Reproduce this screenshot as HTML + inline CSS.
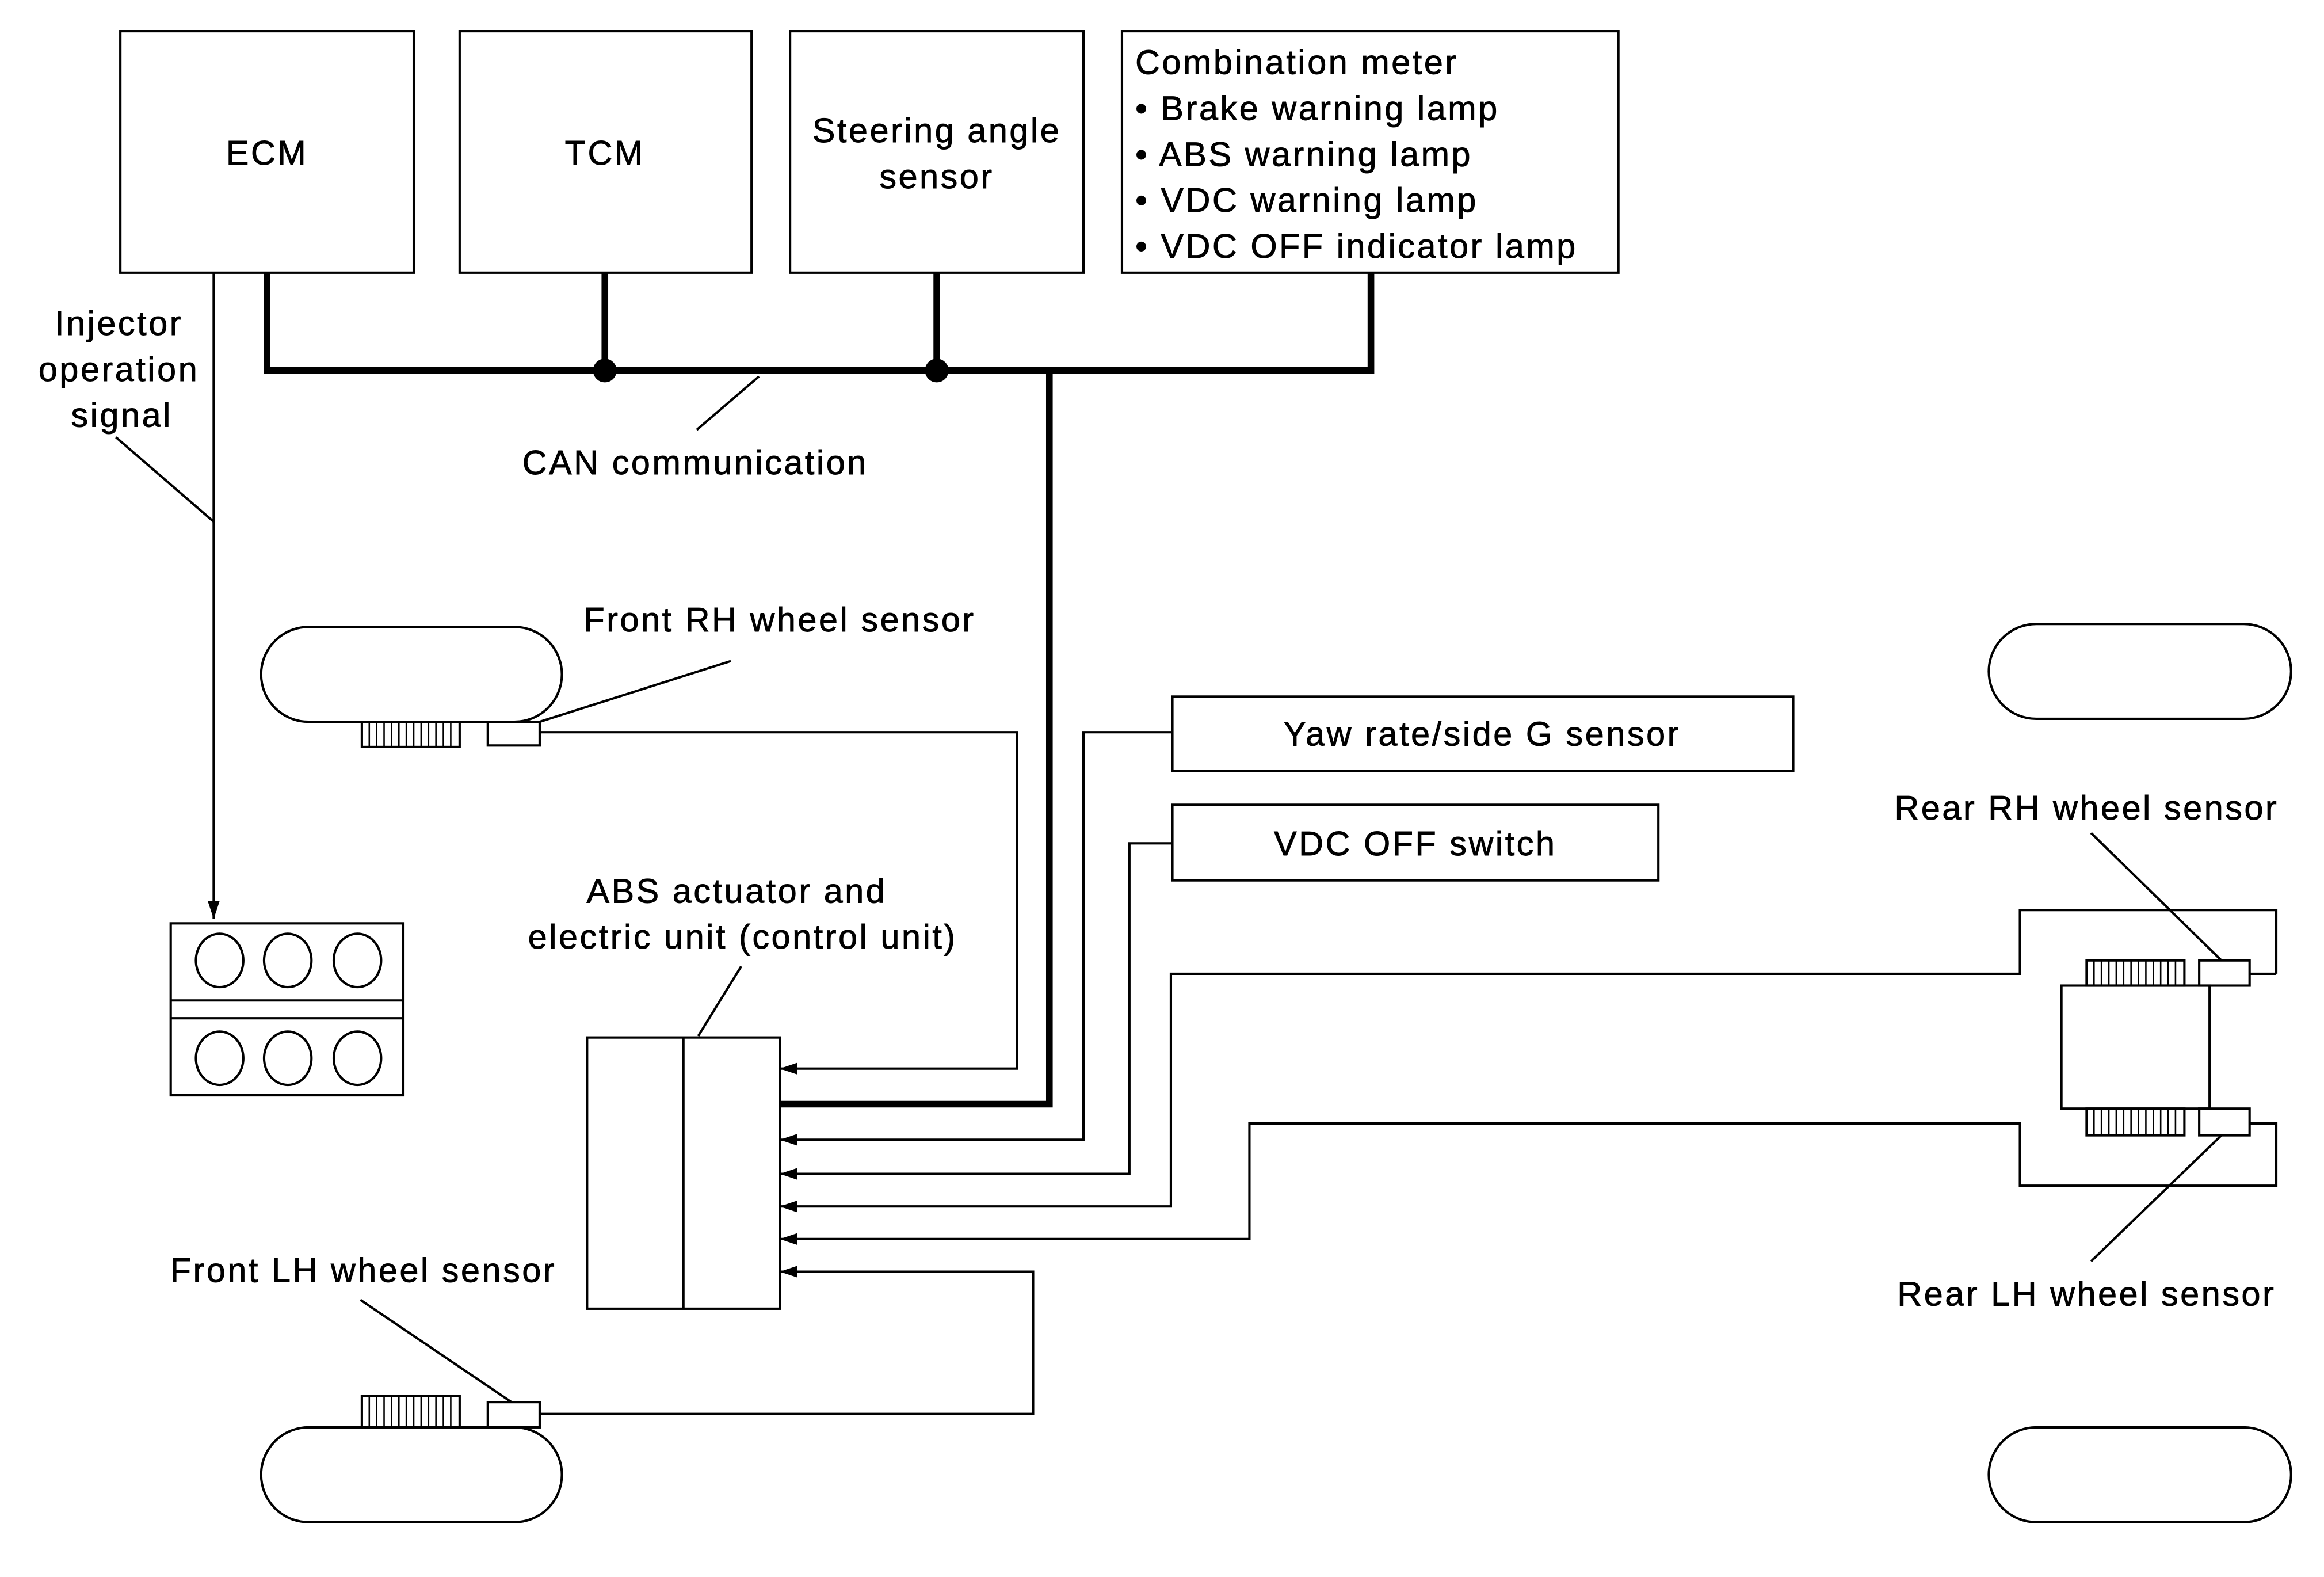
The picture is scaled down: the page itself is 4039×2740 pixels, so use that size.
<!DOCTYPE html>
<html><head><meta charset="utf-8"><style>html,body{margin:0;padding:0;background:#fff}svg{display:block}</style></head>
<body>
<svg width="4039" height="2740" viewBox="0 0 1568 1064" xmlns="http://www.w3.org/2000/svg">
<defs><marker id="a" markerWidth="12" markerHeight="8" refX="12" refY="4" orient="auto" markerUnits="userSpaceOnUse"><path d="M0,0 L12,4 L0,8z" fill="#000"/></marker></defs>
<g fill="none" stroke="#000" stroke-width="1.6">
<rect x="81" y="21" width="198" height="163"/>
<rect x="310" y="21" width="197" height="163"/>
<rect x="533" y="21" width="198" height="163"/>
<rect x="757" y="21" width="335" height="163"/>
</g>
<g fill="none" stroke="#000" stroke-width="4.5">
<path d="M180,184 V250 H925 V184"/>
<path d="M408,184 V250 M632,184 V250"/>
<path d="M708,250 V745 H526"/>
</g>
<circle cx="408" cy="250" r="8" fill="#000"/>
<circle cx="632" cy="250" r="8" fill="#000"/>
<g fill="none" stroke="#000" stroke-width="1.6">
<path d="M470,290 L512,254"/>
<path d="M144,184 V620" marker-end="url(#a)"/>
<path d="M78,295 L144,352"/>
<rect x="115" y="623" width="157" height="116"/>
<path d="M115,675 H272 M115,687 H272"/>
<ellipse cx="148" cy="648" rx="16" ry="18"/><ellipse cx="194" cy="648" rx="16" ry="18"/><ellipse cx="241" cy="648" rx="16" ry="18"/>
<ellipse cx="148" cy="714" rx="16" ry="18"/><ellipse cx="194" cy="714" rx="16" ry="18"/><ellipse cx="241" cy="714" rx="16" ry="18"/>
<rect x="176" y="423" width="203" height="64" rx="32"/>
<rect x="176" y="963" width="203" height="64" rx="32"/>
<rect x="1342" y="421" width="204" height="64" rx="32"/>
<rect x="1342" y="963" width="204" height="64" rx="32"/>
<rect x="244" y="487" width="66" height="17"/>
<rect x="329" y="487" width="35" height="16"/>
<rect x="244" y="942" width="66" height="21"/>
<rect x="329" y="946" width="35" height="17"/>
<path d="M364,487 L493,446"/>
<path d="M243,877 L345,946"/>
<path d="M364,494 H686 V721 H526" marker-end="url(#a)"/>
<path d="M364,954 H697 V858 H526" marker-end="url(#a)"/>
<rect x="791" y="470" width="419" height="50"/>
<rect x="791" y="543" width="328" height="51"/>
<path d="M791,494 H731 V769 H526" marker-end="url(#a)"/>
<path d="M791,569 H762 V792 H526" marker-end="url(#a)"/>
<path d="M1536,657 V614 H1363 V657 H790 V814 H526" marker-end="url(#a)"/>
<path d="M1518,657 H1536"/>
<path d="M1518,758 H1536 V800 H1363 V758 H843 V836 H526" marker-end="url(#a)"/>
<rect x="396" y="700" width="130" height="183"/>
<path d="M461,700 V883"/>
<path d="M471,699 L500,652"/>
<rect x="1391" y="665" width="100" height="83"/>
<rect x="1408" y="648" width="66" height="17"/>
<rect x="1408" y="748" width="66" height="18"/>
<rect x="1484" y="648" width="34" height="17"/>
<rect x="1484" y="748" width="34" height="18"/>
<path d="M1411,562 L1499,648 M1499,766 L1411,851"/>
</g>
<g stroke="#000" stroke-width="1">
<path d="M249,487V504M254,487V504M259,487V504M264,487V504M269,487V504M274,487V504M279,487V504M284,487V504M289,487V504M294,487V504M299,487V504M304,487V504"/>
<path d="M249,942V963M254,942V963M259,942V963M264,942V963M269,942V963M274,942V963M279,942V963M284,942V963M289,942V963M294,942V963M299,942V963M304,942V963"/>
<path d="M1413,648V665M1418,648V665M1423,648V665M1428,648V665M1433,648V665M1438,648V665M1443,648V665M1448,648V665M1453,648V665M1458,648V665M1463,648V665M1468,648V665"/>
<path d="M1413,748V766M1418,748V766M1423,748V766M1428,748V766M1433,748V766M1438,748V766M1443,748V766M1448,748V766M1453,748V766M1458,748V766M1463,748V766M1468,748V766"/>
</g>
<g font-family="Liberation Sans, sans-serif" font-size="23" fill="#000" stroke="#000" stroke-width="0.35" text-anchor="middle" letter-spacing="1.4">
<text x="180" y="111">ECM</text>
<text x="408" y="111">TCM</text>
<text x="632" y="96">Steering angle</text>
<text x="632" y="127">sensor</text>
<g text-anchor="start">
<text x="766" y="50">Combination meter</text>
<text x="766" y="81">• Brake warning lamp</text>
<text x="766" y="112">• ABS warning lamp</text>
<text x="766" y="143">• VDC warning lamp</text>
<text x="766" y="174">• VDC OFF indicator lamp</text>
</g>
<text x="80" y="226">Injector</text>
<text x="80" y="257">operation</text>
<text x="82" y="288">signal</text>
<text x="469" y="320">CAN communication</text>
<text x="526" y="426">Front RH wheel sensor</text>
<text x="1000" y="503">Yaw rate/side G sensor</text>
<text x="955" y="577">VDC OFF switch</text>
<text x="497" y="609">ABS actuator and</text>
<text x="501" y="640">electric unit (control unit)</text>
<text x="1408" y="553">Rear RH wheel sensor</text>
<text x="1408" y="881">Rear LH wheel sensor</text>
<text x="245" y="865">Front LH wheel sensor</text>
</g>
</svg>
</body></html>
